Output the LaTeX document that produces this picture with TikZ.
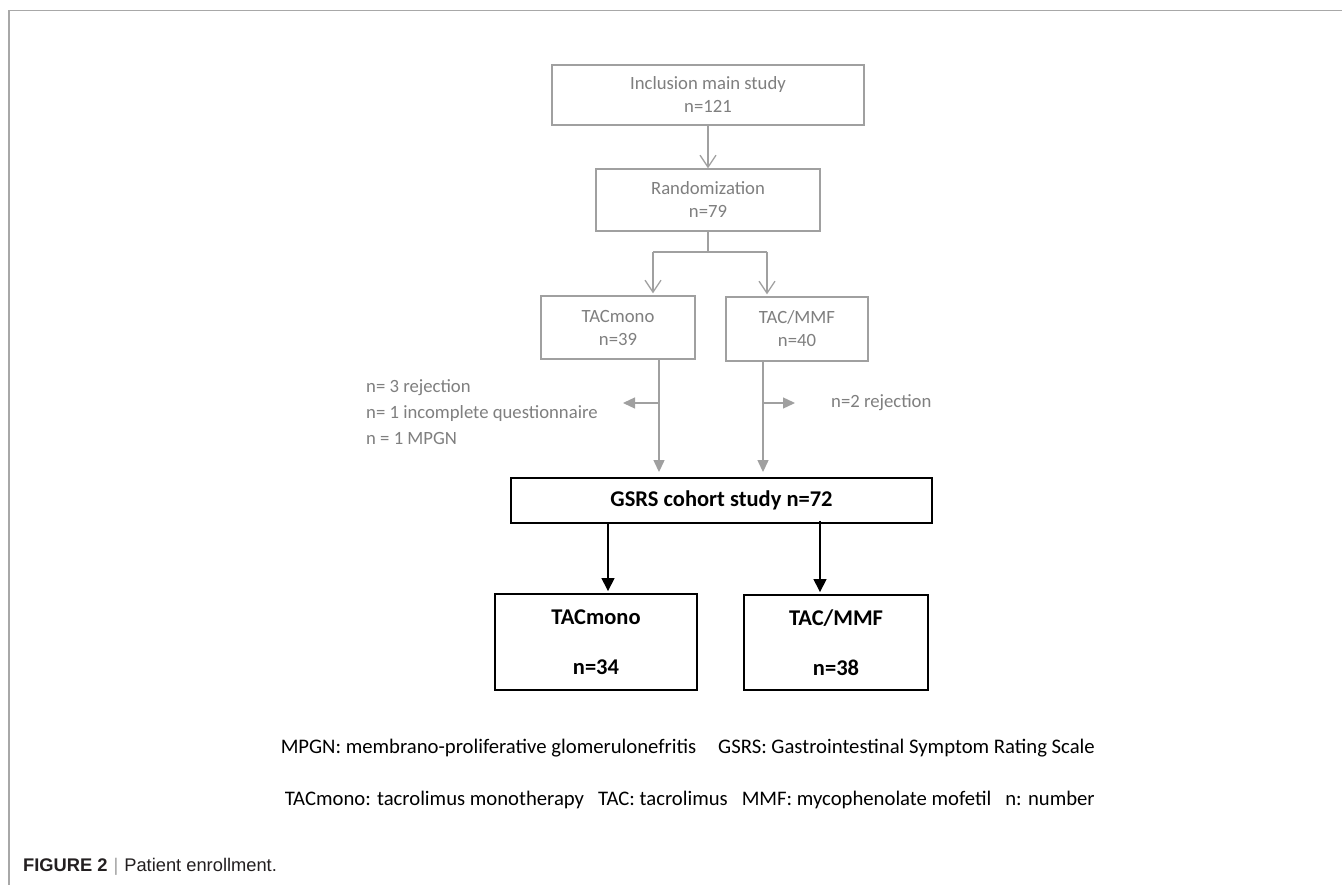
\documentclass[tikz,border=0pt]{standalone}
\usepackage{fontspec}
\setmainfont{Carlito}
\newfontfamily\capfont{Liberation Sans}
\usetikzlibrary{arrows.meta}
\definecolor{lgray}{HTML}{A0A0A0}
\definecolor{tgray}{HTML}{7F7F7F}
\definecolor{framegray}{HTML}{A8A8A8}
\definecolor{capblack}{HTML}{231F20}
\begin{document}
\begin{tikzpicture}[x=1pt,y=-1pt,
  graybox/.style={draw=lgray, line width=1.3pt, text=tgray, font=\fontsize{18.7}{23}\selectfont, align=center, inner sep=0pt},
  blackbox/.style={draw=black, line width=1.9pt, text=black, font=\bfseries\fontsize{22.5}{50}\selectfont, align=center, inner sep=0pt},
  gline/.style={draw=lgray, line width=1.3pt},
  openarr/.style={gline, -{Straight Barb[length=12pt,width=16pt]}},
  grayarr/.style={gline, -{Triangle[length=12pt,width=11pt]}},
  blackarr/.style={draw=black, line width=1.5pt, -{Triangle[length=13pt,width=13pt]}},
  gtext/.style={text=tgray, font=\fontsize{18.7}{26}\selectfont, inner sep=0pt},
  legtext/.style={text=black, font=\fontsize{20.7}{24}\selectfont, inner sep=0pt}
]
\useasboundingbox (0,0) rectangle (1342,885);
\fill[white] (0,0) rectangle (1342,885);
% frame
\draw[framegray, line width=1.5pt] (9,885) -- (9,10.5) -- (1342,10.5);

% boxes
\node[graybox, minimum width=312pt, minimum height=60pt] (incl) at (708,95) {Inclusion main study\\n=121};
\node[graybox, minimum width=224pt, minimum height=62pt] (rand) at (708,200) {Randomization\\n=79};
\node[graybox, minimum width=154pt, minimum height=63pt] (tacm1) at (618,327.5) {TACmono\\n=39};
\node[graybox, minimum width=142pt, minimum height=64pt] (tacmmf1) at (797,329) {TAC/MMF\\n=40};
\node[blackbox, minimum width=421pt, minimum height=45pt, font=\bfseries\fontsize{22.5}{26}\selectfont] (gsrs) at (721.5,500.5) {GSRS cohort study n=72};
\node[blackbox, minimum width=202pt, minimum height=96pt] (tacm2) at (596,642) {TACmono\\n=34};
\node[blackbox, minimum width=184pt, minimum height=95pt] (tacmmf2) at (836,642.5) {TAC/MMF\\n=38};

% top connectors
\draw[openarr] (incl.south) -- (rand.north);
\coordinate (jl) at (653,252);
\coordinate (jr) at (767,252);
\draw[gline] (rand.south) -- (rand.south |- jl);
\draw[gline] (jl) -- (jr);
\draw[openarr] (jl) -- ([yshift=2pt]jl |- tacm1.north);
\draw[openarr] (jr) -- ([yshift=2pt]jr |- tacmmf1.north);

% middle gray arrows
\coordinate (dl) at (659,403);
\coordinate (exl) at (623,403);
\coordinate (dr) at (763,403);
\coordinate (exr) at (795,403);
\draw[grayarr] (dl |- tacm1.south) -- ([yshift=5pt]dl |- gsrs.north);
\draw[grayarr] (dr |- tacmmf1.south) -- ([yshift=5pt]dr |- gsrs.north);
\draw[grayarr] (dl) -- (exl);
\draw[grayarr] (dr) -- (exr);

% exclusion texts
\node[gtext, anchor=west, align=left] (excl) at (366,412) {n= 3 rejection\\n= 1 incomplete questionnaire\\n = 1 MPGN};
\node[gtext, anchor=west] (excr) at (831,403) {n=2 rejection};

% black arrows
\coordinate (bl) at (608,560);
\coordinate (br) at (820,560);
\draw[blackarr] (bl |- gsrs.south) -- ([yshift=2pt]bl |- tacm2.north);
\draw[blackarr] ([yshift=3pt]br |- gsrs.south) -- ([yshift=2pt]br |- tacmmf2.north);

% legend
\node[legtext, anchor=east] (leg1) at (1095,748) {MPGN: membrano-proliferative glomerulonefritis\hspace{22pt}GSRS: Gastrointestinal Symptom Rating Scale};
\node[legtext, anchor=east] (leg2) at (1095,800) {TACmono: tacrolimus monotherapy\hspace{14pt}TAC: tacrolimus\hspace{14pt}MMF: mycophenolate mofetil\hspace{14pt}n: number};

% caption
\node[anchor=west, inner sep=0pt, text=capblack, font=\capfont\fontsize{18.3}{22}\selectfont] (cap) at (23,867) {\textbf{FIGURE 2}\hspace{6pt}{\color{lgray}|}\hspace{6pt}Patient enrollment.};
\end{tikzpicture}
\end{document}
